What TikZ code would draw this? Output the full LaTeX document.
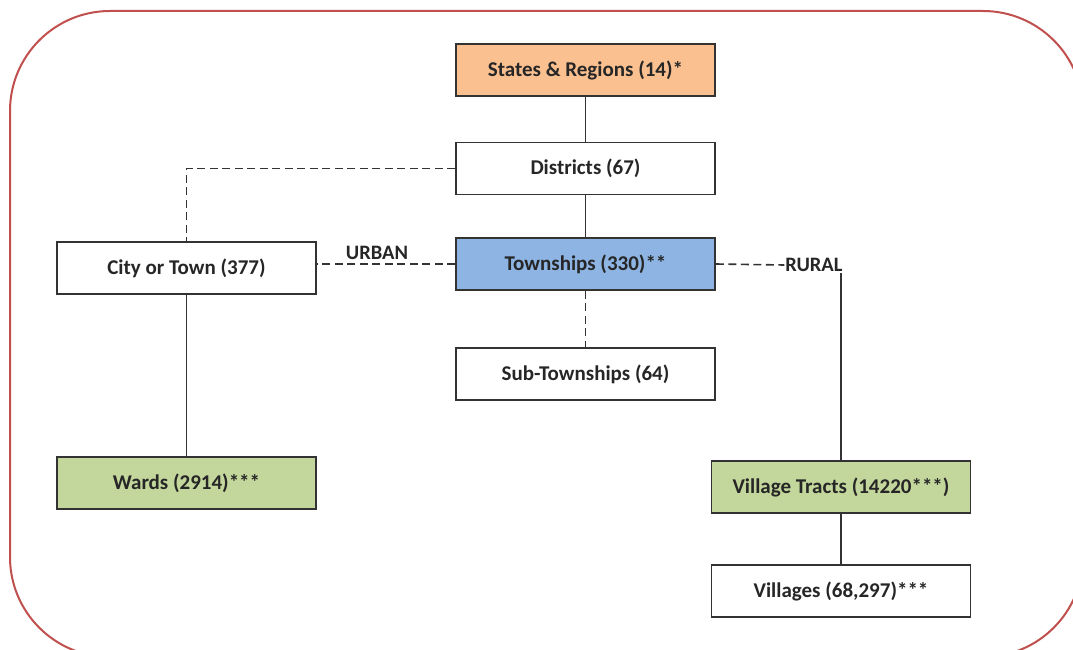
\documentclass[tikz,border=0pt]{standalone}
\usepackage{fontspec}
\setmainfont{Carlito}
\usetikzlibrary{positioning}

\definecolor{frameRed}{HTML}{C0504D}
\definecolor{stateOrange}{HTML}{FAC090}
\definecolor{townBlue}{HTML}{8DB4E2}
\definecolor{wardGreen}{HTML}{C3D69B}
\definecolor{lineGray}{HTML}{333333}

\tikzset{
  unit/.style={draw=lineGray, line width=1.8pt, fill=white, minimum width=259pt,
    minimum height=52pt, inner sep=0pt, font=\fontsize{21}{25}\selectfont\bfseries, text=black!85},
  link/.style={draw=lineGray, line width=1.6pt},
  dlink/.style={link, dash pattern=on 8pt off 4.5pt},
  tag/.style={font=\fontsize{20.5}{24}\selectfont\bfseries, text=black!85, inner sep=1pt}
}

\begin{document}
\begin{tikzpicture}[x=1pt,y=-1pt]
    \useasboundingbox (0,0) rectangle (1073,650);
    % outer frame
    \draw[frameRed, line width=2pt, rounded corners=100pt] (10,11) rectangle (1083,657);
    % central column
    \node[unit, fill=stateOrange] (states) at (585.5,70) {States \& Regions (14)*};
    \node[unit] (districts) at (585.5,168.5) {Districts (67)};
    \node[unit, fill=townBlue] (townships) at (585.5,264) {Townships (330)**};
    \node[unit] (subtown) at (585.5,374) {Sub-Townships (64)};
    % urban side
    \node[unit] (city) at (186.5,268) {City or Town (377)};
    \node[unit, fill=wardGreen] (wards) at (186.5,483) {Wards (2914)***};
    \node[tag] (urban) at (377,253) {URBAN};
    % rural side
    \node[tag] (rural) at (814,265) {RURAL};
    \node[unit, fill=wardGreen] (tracts) at (841,487) {Village Tracts (14220***)};
    \node[unit] (villages) at (841,591) {Villages (68,297)***};
    % connectors
    \draw[link] (states) -- (districts);
    \draw[link] (districts) -- (townships);
    \draw[dlink] (townships) -- (subtown);
    \draw[dlink] (districts.west) -- (districts.west -| city.north) -- (city.north);
    \draw[dlink] (townships.west) -- (townships.west -| city.east);
    \draw[link] (city) -- (wards);
    \draw[dlink] (townships.east) -- (rural.west);
    \draw[link] (tracts.north) -- (tracts.north |- rural.south);
    \draw[link] (tracts) -- (villages);
\end{tikzpicture}
\end{document}
